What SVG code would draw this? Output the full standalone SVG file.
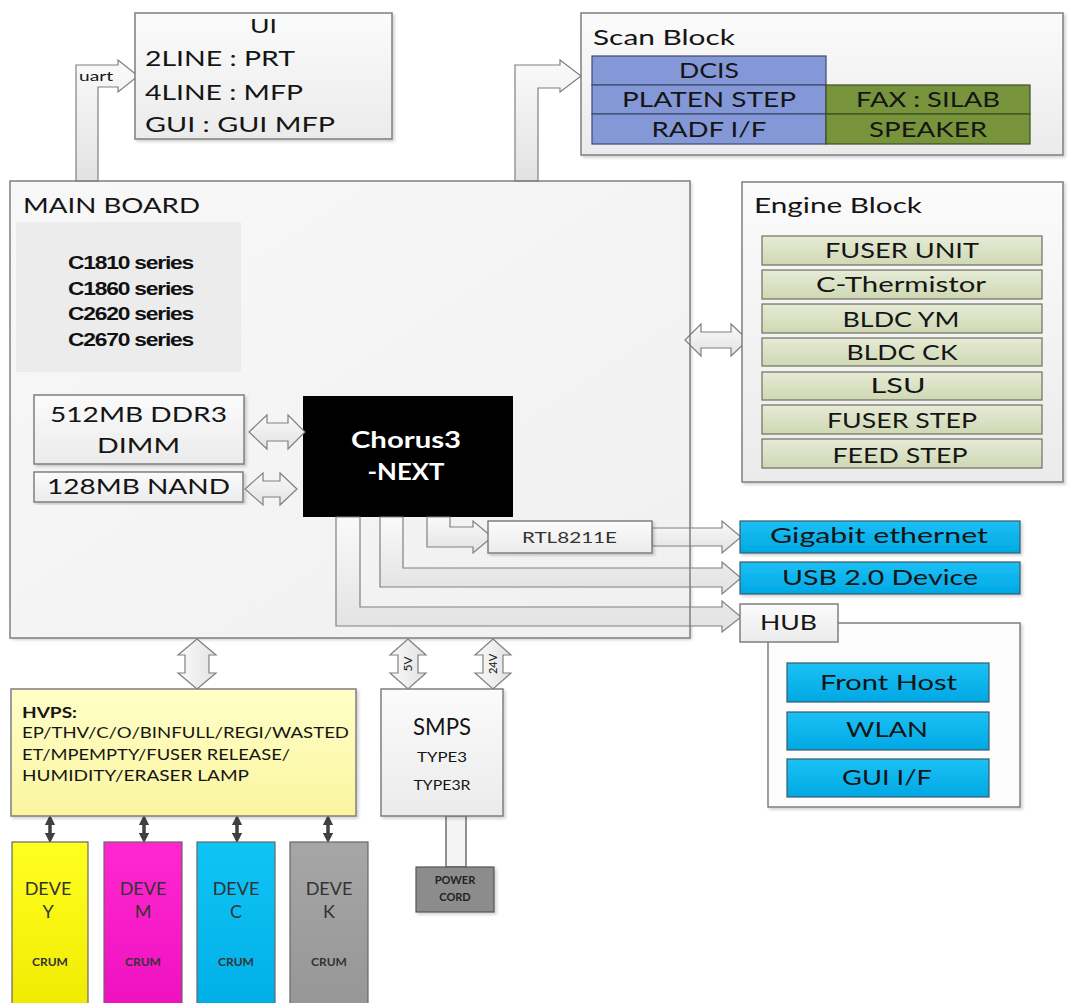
<svg xmlns="http://www.w3.org/2000/svg" width="1070" height="1003" viewBox="0 0 1070 1003">
<defs>
<linearGradient id="gLight" x1="0" y1="0" x2="0" y2="1"><stop offset="0" stop-color="#fbfbfb"/><stop offset="1" stop-color="#ebebeb"/></linearGradient>
<linearGradient id="gBoard" x1="0" y1="0" x2="1" y2="1"><stop offset="0" stop-color="#f8f8f8"/><stop offset="1" stop-color="#f0f0f0"/></linearGradient>
<linearGradient id="gArrow" x1="0" y1="0" x2="0" y2="1"><stop offset="0" stop-color="#fafafa"/><stop offset="1" stop-color="#e2e2e2"/></linearGradient>
<linearGradient id="gArrowV" x1="0" y1="0" x2="1" y2="0"><stop offset="0" stop-color="#fafafa"/><stop offset="1" stop-color="#e2e2e2"/></linearGradient>
<linearGradient id="gOlive" x1="0" y1="0" x2="0" y2="1"><stop offset="0" stop-color="#e6ebd6"/><stop offset="1" stop-color="#cfd8b4"/></linearGradient>
<linearGradient id="gCyan" x1="0" y1="0" x2="0" y2="1"><stop offset="0" stop-color="#1cc0f4"/><stop offset="1" stop-color="#00a8e4"/></linearGradient>
<linearGradient id="gYellowBox" x1="0" y1="0" x2="0" y2="1"><stop offset="0" stop-color="#ffffc8"/><stop offset="1" stop-color="#fbf5a0"/></linearGradient>
<linearGradient id="gY" x1="0" y1="0" x2="0" y2="1"><stop offset="0" stop-color="#ffff20"/><stop offset="1" stop-color="#f0ea00"/></linearGradient>
<linearGradient id="gM" x1="0" y1="0" x2="0" y2="1"><stop offset="0" stop-color="#ff28d0"/><stop offset="1" stop-color="#ee10c0"/></linearGradient>
<linearGradient id="gC" x1="0" y1="0" x2="0" y2="1"><stop offset="0" stop-color="#10c4f6"/><stop offset="1" stop-color="#00aee6"/></linearGradient>
<linearGradient id="gK" x1="0" y1="0" x2="0" y2="1"><stop offset="0" stop-color="#a6a6a6"/><stop offset="1" stop-color="#969696"/></linearGradient>
<filter id="sh" x="-5%" y="-5%" width="115%" height="115%"><feDropShadow dx="2" dy="2" stdDeviation="1.5" flood-color="#000" flood-opacity="0.18"/></filter>
<marker id="dh" viewBox="0 0 10 10" refX="5" refY="5" markerWidth="3" markerHeight="3" orient="auto-start-reverse"><path d="M0,0 L10,5 L0,10 Z" fill="#404040"/></marker>
<style>
.t{font-family:Lato,"Open Sans","Liberation Sans",sans-serif;fill:#151515}
.c{text-anchor:middle}
.box{fill:url(#gLight);stroke:#7f7f7f;stroke-width:1.5}
.arr{fill:url(#gArrow);stroke:#808080;stroke-width:1.2}
.arrv{fill:url(#gArrowV);stroke:#808080;stroke-width:1.2}
.olive{fill:url(#gOlive);stroke:#6f6f5f;stroke-width:1.2}
.cyan{fill:url(#gCyan);stroke:#3a5a6a;stroke-width:1.2}
.blue{fill:#8498d8;stroke:#3c4a70;stroke-width:1.2}
.green{fill:#77933c;stroke:#3f4f20;stroke-width:1.2}
.dev{stroke:#666;stroke-width:1.2}
.small{stroke:#404040;stroke-width:3.5}
</style>
</defs>
<rect width="1070" height="1003" fill="#ffffff"/>

<g id="main-board">
<rect x="10" y="181" width="680" height="457" fill="url(#gBoard)" filter="url(#sh)"/>
<text class="t" x="23" y="213" font-size="22" textLength="177" lengthAdjust="spacingAndGlyphs">MAIN BOARD</text>
<rect x="16" y="222" width="225" height="150" fill="#ececec"/>
<g font-family="'Liberation Sans',Arial,sans-serif" font-weight="bold" font-size="19" fill="#111" letter-spacing="-1">
<text x="68" y="269" textLength="125" lengthAdjust="spacingAndGlyphs">C1810 series</text>
<text x="68" y="295" textLength="125" lengthAdjust="spacingAndGlyphs">C1860 series</text>
<text x="68" y="320" textLength="125" lengthAdjust="spacingAndGlyphs">C2620 series</text>
<text x="68" y="346" textLength="125" lengthAdjust="spacingAndGlyphs">C2670 series</text>
</g>
</g>

<g id="ddr3">
<rect class="box" x="34" y="395" width="210" height="69" filter="url(#sh)"/>
<text class="t" x="50" y="422" font-size="22" textLength="177" lengthAdjust="spacingAndGlyphs">512MB DDR3</text>
<text class="t" x="97" y="453" font-size="22" textLength="83" lengthAdjust="spacingAndGlyphs">DIMM</text>
</g>
<g id="nand">
<rect class="box" x="34" y="472" width="209" height="30" filter="url(#sh)"/>
<text class="t" x="47" y="494" font-size="22" textLength="183" lengthAdjust="spacingAndGlyphs">128MB NAND</text>
</g>

<g id="chorus">
<rect x="303" y="396" width="210" height="121" fill="#000"/>
<text class="t" x="406" y="448" font-size="23" font-weight="bold" style="fill:#fff" text-anchor="middle" textLength="110" lengthAdjust="spacingAndGlyphs">Chorus3</text>
<text class="t" x="406" y="480" font-size="23" font-weight="bold" style="fill:#fff" text-anchor="middle" textLength="77" lengthAdjust="spacingAndGlyphs">-NEXT</text>
</g>

<g id="connectors">
<path class="arr" d="M76,181 L76,65 L118,65 L118,60 L138,76 L118,92 L118,87 L98,87 L98,181 Z"/>
<path class="arr" d="M515,181 L515,65 L560,65 L560,60 L581,76 L560,92 L560,88 L538,88 L538,181 Z"/>
<path class="arr" d="M685,340 L701,324 L701,332 L731,332 L731,324 L748,340 L731,356 L731,348 L701,348 L701,356 Z"/>
<path class="arr" d="M249,432 L267,415 L267,423 L288,423 L288,415 L305,432 L288,449 L288,441 L267,441 L267,449 Z"/>
<path class="arr" d="M245,489 L263,473 L263,481 L280,481 L280,473 L297,489 L280,505 L280,497 L263,497 L263,505 Z"/>
<path class="arr" d="M427,517 L427,547 L473,547 L473,553 L492,537 L473,521 L473,527 L450,527 L450,517 Z"/>
<path class="arr" d="M652,528 L722,528 L722,521 L741,537 L722,553 L722,546 L652,546 Z"/>
<path class="arr" d="M380,517 L380,587 L722,587 L722,594 L741,578 L722,562 L722,568 L403,568 L403,517 Z"/>
<path class="arr" d="M336,517 L336,626 L722,626 L722,632 L741,617 L722,601 L722,607 L360,607 L360,517 Z"/>
<path class="arrv" d="M197,639 L216,655 L209,655 L209,673 L216,673 L197,689 L178,673 L185,673 L185,655 L178,655 Z"/>
<path class="arrv" d="M408,639 L426,655 L418,655 L418,673 L426,673 L408,689 L390,673 L398,673 L398,655 L390,655 Z"/>
<path class="arrv" d="M493,639 L511,655 L503,655 L503,673 L511,673 L493,689 L475,673 L483,673 L483,655 L475,655 Z"/>
<text class="t" transform="translate(412,664) rotate(-90)" font-size="12" text-anchor="middle">5V</text>
<text class="t" transform="translate(497,664) rotate(-90)" font-size="11" text-anchor="middle">24V</text>
<rect x="446" y="816" width="20" height="51" fill="#f4f4f4" stroke="#6f6f6f" stroke-width="1.5"/>
<line class="small" x1="50" y1="820" x2="50" y2="838" marker-start="url(#dh)" marker-end="url(#dh)"/>
<line class="small" x1="144" y1="820" x2="144" y2="838" marker-start="url(#dh)" marker-end="url(#dh)"/>
<line class="small" x1="237" y1="820" x2="237" y2="838" marker-start="url(#dh)" marker-end="url(#dh)"/>
<line class="small" x1="328" y1="820" x2="328" y2="838" marker-start="url(#dh)" marker-end="url(#dh)"/>
<text class="t" x="79" y="81" font-size="14" textLength="34" lengthAdjust="spacingAndGlyphs">uart</text>
</g>

<g id="main-board-outline">
<rect x="10" y="181" width="680" height="457" fill="none" stroke="#7f7f7f" stroke-width="1.5"/>
</g>

<g id="rtl8211e">
<rect class="box" x="488" y="521" width="164" height="32" filter="url(#sh)"/>
<text class="t" x="522" y="543" font-size="16" textLength="95" lengthAdjust="spacingAndGlyphs" style="fill:#333">RTL8211E</text>
</g>

<g id="ui">
<rect class="box" x="135" y="13" width="257" height="126" filter="url(#sh)"/>
<text class="t" x="250" y="33" font-size="20" textLength="27" lengthAdjust="spacingAndGlyphs">UI</text>
<text class="t" x="145" y="66" font-size="22" textLength="150" lengthAdjust="spacingAndGlyphs">2LINE : PRT</text>
<text class="t" x="145" y="100" font-size="22" textLength="158" lengthAdjust="spacingAndGlyphs">4LINE : MFP</text>
<text class="t" x="145" y="132" font-size="22" textLength="190" lengthAdjust="spacingAndGlyphs">GUI : GUI MFP</text>
</g>

<g id="scan-block">
<rect class="box" x="581" y="13" width="482" height="142" filter="url(#sh)"/>
<text class="t" x="593" y="45" font-size="22" textLength="142" lengthAdjust="spacingAndGlyphs">Scan Block</text>
<rect class="blue" x="592" y="56" width="234" height="29"/>
<rect class="blue" x="592" y="85" width="234" height="29"/>
<rect class="blue" x="592" y="114" width="234" height="30"/>
<rect class="green" x="826" y="85" width="204" height="29"/>
<rect class="green" x="826" y="114" width="204" height="30"/>
<text class="t c" x="709" y="78" font-size="21" textLength="60" lengthAdjust="spacingAndGlyphs">DCIS</text>
<text class="t c" x="709" y="107" font-size="21" textLength="174" lengthAdjust="spacingAndGlyphs">PLATEN STEP</text>
<text class="t c" x="709" y="137" font-size="21" textLength="115" lengthAdjust="spacingAndGlyphs">RADF I/F</text>
<text class="t c" x="928" y="107" font-size="21" textLength="144" lengthAdjust="spacingAndGlyphs">FAX : SILAB</text>
<text class="t c" x="928" y="137" font-size="21" textLength="118" lengthAdjust="spacingAndGlyphs">SPEAKER</text>
</g>

<g id="engine-block">
<rect class="box" x="742" y="182" width="321" height="300" filter="url(#sh)"/>
<text class="t" x="754" y="213" font-size="22" textLength="168" lengthAdjust="spacingAndGlyphs">Engine Block</text>
<rect class="olive" x="762" y="236" width="280" height="29"/>
<rect class="olive" x="762" y="270" width="280" height="29"/>
<rect class="olive" x="762" y="304" width="280" height="29"/>
<rect class="olive" x="762" y="338" width="280" height="28"/>
<rect class="olive" x="762" y="372" width="280" height="28"/>
<rect class="olive" x="762" y="405" width="280" height="29"/>
<rect class="olive" x="762" y="439" width="280" height="29"/>
<text class="t c" x="902" y="258" font-size="22" textLength="154" lengthAdjust="spacingAndGlyphs">FUSER UNIT</text>
<text class="t c" x="901" y="292" font-size="22" textLength="170" lengthAdjust="spacingAndGlyphs">C-Thermistor</text>
<text class="t c" x="901" y="327" font-size="22" textLength="117" lengthAdjust="spacingAndGlyphs">BLDC YM</text>
<text class="t c" x="902" y="360" font-size="22" textLength="111" lengthAdjust="spacingAndGlyphs">BLDC CK</text>
<text class="t c" x="898" y="393" font-size="22" textLength="55" lengthAdjust="spacingAndGlyphs">LSU</text>
<text class="t c" x="902" y="428" font-size="22" textLength="150" lengthAdjust="spacingAndGlyphs">FUSER STEP</text>
<text class="t c" x="900" y="463" font-size="22" textLength="135" lengthAdjust="spacingAndGlyphs">FEED STEP</text>
</g>

<g id="gigabit-ethernet">
<rect class="cyan" x="740" y="521" width="280" height="32" filter="url(#sh)"/>
<text class="t" x="770" y="543" font-size="22" textLength="218" lengthAdjust="spacingAndGlyphs">Gigabit ethernet</text>
</g>
<g id="usb-device">
<rect class="cyan" x="740" y="562" width="280" height="32" filter="url(#sh)"/>
<text class="t" x="782" y="585" font-size="22" textLength="196" lengthAdjust="spacingAndGlyphs">USB 2.0 Device</text>
</g>

<g id="hub">
<rect x="768" y="623" width="252" height="184" fill="#fcfcfc" stroke="#7f7f7f" stroke-width="1.5" filter="url(#sh)"/>
<rect class="box" x="740" y="604" width="98" height="38"/>
<text class="t" x="760" y="630" font-size="22" textLength="57" lengthAdjust="spacingAndGlyphs">HUB</text>
<rect class="cyan" x="787" y="663" width="202" height="39"/>
<rect class="cyan" x="787" y="712" width="202" height="38"/>
<rect class="cyan" x="787" y="759" width="202" height="38"/>
<text class="t" x="820" y="690" font-size="22" textLength="137" lengthAdjust="spacingAndGlyphs">Front Host</text>
<text class="t" x="846" y="737" font-size="22" textLength="82" lengthAdjust="spacingAndGlyphs">WLAN</text>
<text class="t" x="842" y="785" font-size="22" textLength="90" lengthAdjust="spacingAndGlyphs">GUI I/F</text>
</g>

<g id="hvps">
<rect x="11" y="689" width="345" height="127" fill="url(#gYellowBox)" stroke="#7f7f7f" stroke-width="1.5" filter="url(#sh)"/>
<text class="t" x="22" y="718" font-size="15" font-weight="bold" textLength="55" lengthAdjust="spacingAndGlyphs">HVPS:</text>
<text class="t" x="22" y="738" font-size="15" textLength="327" lengthAdjust="spacingAndGlyphs">EP/THV/C/O/BINFULL/REGI/WASTED</text>
<text class="t" x="22" y="760" font-size="15" textLength="268" lengthAdjust="spacingAndGlyphs">ET/MPEMPTY/FUSER RELEASE/</text>
<text class="t" x="22" y="781" font-size="15" textLength="227" lengthAdjust="spacingAndGlyphs">HUMIDITY/ERASER LAMP</text>
</g>

<g id="smps">
<rect class="box" x="381" y="689" width="122" height="127" filter="url(#sh)"/>
<text class="t c" x="442" y="735" font-size="24" textLength="58" lengthAdjust="spacingAndGlyphs">SMPS</text>
<text class="t c" x="442" y="762" font-size="14" textLength="50" lengthAdjust="spacingAndGlyphs">TYPE3</text>
<text class="t c" x="442" y="790" font-size="14" textLength="57" lengthAdjust="spacingAndGlyphs">TYPE3R</text>
</g>

<g id="power-cord">
<rect x="416" y="867" width="78" height="45" fill="#8c8c8c" stroke="#555" stroke-width="1.2" filter="url(#sh)"/>
<text class="t c" x="455" y="884" font-size="11" font-weight="bold" style="fill:#222">POWER</text>
<text class="t c" x="455" y="901" font-size="11" font-weight="bold" style="fill:#222">CORD</text>
</g>

<g id="deve-y">
<rect class="dev" x="12" y="842" width="76" height="170" fill="url(#gY)"/>
<text class="t c" x="48" y="895" font-size="18" style="fill:#333">DEVE</text>
<text class="t c" x="48" y="918" font-size="18" style="fill:#333">Y</text>
<text class="t c" x="50" y="966" font-size="12" font-weight="bold" style="fill:#333">CRUM</text>
</g>
<g id="deve-m">
<rect class="dev" x="104" y="842" width="78" height="170" fill="url(#gM)"/>
<text class="t c" x="143" y="895" font-size="18" style="fill:#333">DEVE</text>
<text class="t c" x="143" y="918" font-size="18" style="fill:#333">M</text>
<text class="t c" x="143" y="966" font-size="12" font-weight="bold" style="fill:#333">CRUM</text>
</g>
<g id="deve-c">
<rect class="dev" x="197" y="842" width="78" height="170" fill="url(#gC)"/>
<text class="t c" x="236" y="895" font-size="18" style="fill:#333">DEVE</text>
<text class="t c" x="236" y="918" font-size="18" style="fill:#333">C</text>
<text class="t c" x="236" y="966" font-size="12" font-weight="bold" style="fill:#333">CRUM</text>
</g>
<g id="deve-k">
<rect class="dev" x="290" y="842" width="78" height="170" fill="url(#gK)"/>
<text class="t c" x="329" y="895" font-size="18" style="fill:#333">DEVE</text>
<text class="t c" x="329" y="918" font-size="18" style="fill:#333">K</text>
<text class="t c" x="329" y="966" font-size="12" font-weight="bold" style="fill:#333">CRUM</text>
</g>
</svg>
